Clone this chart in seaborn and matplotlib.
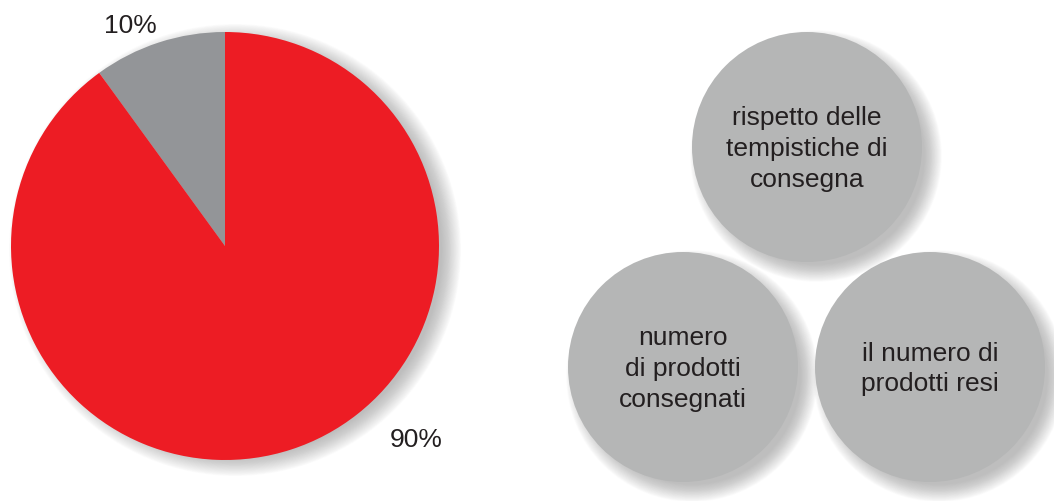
import matplotlib
matplotlib.use("Agg")
import matplotlib.pyplot as plt
import seaborn as sns
from matplotlib.patches import Circle

sns.set_theme(style="white")
plt.rcParams['font.family'] = ['Liberation Sans', 'DejaVu Sans']

# data
pie_labels = ["10%", "90%"]
pie_values = [10, 90]
pie_colors = ["#939598", "#ED1C24"]
bubble_labels = ["rispetto delle\ntempistiche di\nconsegna",
                 "numero\ndi prodotti\nconsegnati",
                 "il numero di\nprodotti resi"]

W, H = 1054, 502
fig = plt.figure(figsize=(W / 100, H / 100), dpi=100)
ax = fig.add_axes([0, 0, 1, 1])
ax.set_xlim(0, W)
ax.set_ylim(0, H)
ax.set_aspect("equal")
ax.axis("off")

def shadow(cx, cy, r, dx=9, dy=-9, blur=18, n=24, alpha=0.028):
    for k in range(n):
        rr = r + blur * (1 - k / n) - blur * 0.4
        ax.add_patch(Circle((cx + dx, cy + dy), rr, color="#8a8a8a",
                            alpha=alpha, lw=0, zorder=1))

# pie
pcx, pcy, pr = 225, 255, 214
shadow(pcx, pcy, pr, dx=10, dy=-4, blur=20)
ax.pie(pie_values, colors=pie_colors, startangle=90, counterclock=True,
       center=(pcx, pcy), radius=pr, frame=True,
       wedgeprops=dict(linewidth=0, zorder=3))
ax.set_xlim(0, W)
ax.set_ylim(0, H)
ax.axis("off")
ax.text(130, 476, pie_labels[0], fontsize=19, color="#231F20",
        ha="center", va="center", zorder=5)
ax.text(416, 62, pie_labels[1], fontsize=19, color="#231F20",
        ha="center", va="center", zorder=5)

# bubbles
centers = [(807, 354), (683, 134), (930, 134)]
br = 115
for (cx, cy) in centers:
    shadow(cx, cy, br)
for (cx, cy), lab in zip(centers, bubble_labels):
    ax.add_patch(Circle((cx, cy), br, color="#B5B6B6", lw=0, zorder=3))
    ax.text(cx, cy - 1, lab, fontsize=19, color="#231F20", ha="center",
            va="center", linespacing=1.36, zorder=5)

fig.savefig("out.png", dpi=100)
